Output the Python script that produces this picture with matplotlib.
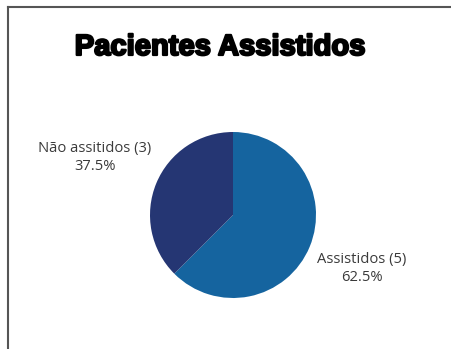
import matplotlib
matplotlib.use("Agg")
import matplotlib.pyplot as plt
from matplotlib.lines import Line2D
from matplotlib.patheffects import withStroke
import numpy as np

title = "Pacientes Assistidos"
categories = ["Assistidos", "Não assitidos"]
counts = [5, 3]
colors = ["#15649f", "#253673"]

W, H = 452, 349
fig = plt.figure(figsize=(W / 100, H / 100), dpi=100)
fig.patch.set_facecolor("white")

R = 83.0
cx, cy = 233.0, 215.0
ax = fig.add_axes([0, 0, 1, 1])

total = sum(counts)
wedges, _ = ax.pie(counts, colors=colors, startangle=90, counterclock=False,
                   radius=1, wedgeprops=dict(linewidth=0))
ax.set_xlim(-cx / R, (W - cx) / R)
ax.set_ylim(-(H - cy) / R, cy / R)
ax.set_aspect("equal")
ax.axis("off")

label_dist = {0: 1.68, 1: 1.80}
for i, w in enumerate(wedges):
    ang = np.deg2rad((w.theta1 + w.theta2) / 2)
    x, y = label_dist[i] * np.cos(ang), label_dist[i] * np.sin(ang)
    pct = 100 * counts[i] / total
    ax.text(x, y, f"{categories[i]} ({counts[i]})\n{pct:.1f}%", ha="center", va="center",
            fontsize=10.6, color="#3a3a3a", family="Open Sans", linespacing=1.25)

fig.text(220 / W, 1 - 47 / H, title, ha="center", va="center", fontsize=21,
         fontweight="bold", family="Liberation Sans", color="black",
         path_effects=[withStroke(linewidth=1.6, foreground="black")])

fig.add_artist(Line2D([8 / W, 1], [1 - 7 / H, 1 - 7 / H], color="#555555", lw=1.5,
                      transform=fig.transFigure))
fig.add_artist(Line2D([8 / W, 8 / W], [1 - 7 / H, 0], color="#555555", lw=1.5,
                      transform=fig.transFigure))

fig.savefig("out.png", dpi=100)
